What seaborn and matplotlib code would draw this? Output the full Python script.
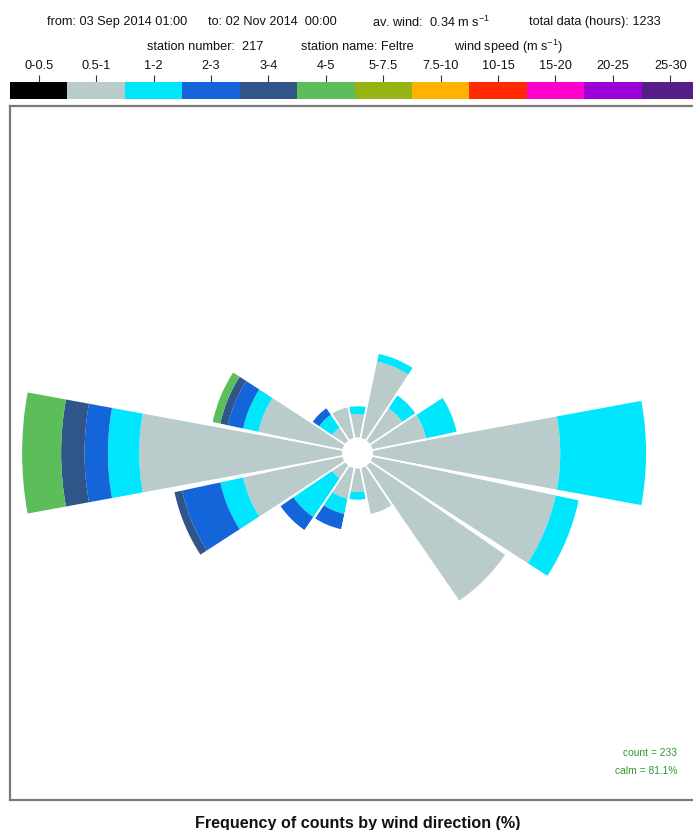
import numpy as np
import pandas as pd
import matplotlib
matplotlib.use("Agg")
import matplotlib.pyplot as plt
from matplotlib.colors import ListedColormap
import seaborn as sns

# ---------------- data ----------------
directions = ['N', 'NNE', 'NE', 'ENE', 'E', 'ESE', 'SE', 'SSE',
              'S', 'SSW', 'SW', 'WSW', 'W', 'WNW', 'NW', 'NNW']
dir_deg = [0, 22.5, 45, 67.5, 90, 112.5, 135, 157.5,
           180, 202.5, 225, 247.5, 270, 292.5, 315, 337.5]
speed_bins = ['0-0.5', '0.5-1', '1-2', '2-3', '3-4', '4-5', '5-7.5',
              '7.5-10', '10-15', '15-20', '20-25', '25-30']
bin_colors = ['#000000', '#B9CCCB', '#00E6FC', '#1565DA', '#2F5589', '#5BBE5B',
              '#96B414', '#FFB300', '#FF2A00', '#FF00CC', '#9B00D6', '#561C87']

# hourly counts per direction for each speed bin
counts_0_05 = [0, 0, 0, 0, 0, 0, 0, 0, 0, 0, 0, 0, 0, 0, 0, 0]
counts_05_1 = [3, 10, 5, 7, 24, 24, 21, 6, 3, 4, 2, 13, 26, 11, 2, 4]
counts_1_2 = [1, 1, 2, 4, 11, 3, 0, 0, 1, 2, 6, 3, 4, 2, 2, 0]
counts_2_3 = [0, 0, 0, 0, 0, 0, 0, 0, 0, 2, 2, 5, 3, 2, 1, 0]
counts_3_4 = [0, 0, 0, 0, 0, 0, 0, 0, 0, 0, 0, 1, 3, 1, 0, 0]
counts_4_5 = [0, 0, 0, 0, 0, 0, 0, 0, 0, 0, 0, 0, 5, 1, 0, 0]

total_hours = 1233
count_total = 233
calm_pct = 81.1

header1 = [("from: 03 Sep 2014 01:00", 47), ("to: 02 Nov 2014  00:00", 208),
           (r"av. wind:  0.34 m s$^{-1}$", 372), ("total data (hours): 1233", 529)]
header2 = [("station number:  217", 147), ("station name: Feltre", 301),
           (r"wind speed (m s$^{-1}$)", 454)]
xlabel = "Frequency of counts by wind direction (%)"

# ---------------- style ----------------
sns.set_theme(style="white")
plt.rcParams['font.family'] = ['Liberation Sans', 'DejaVu Sans']
plt.rcParams['mathtext.fontset'] = 'custom'
plt.rcParams['mathtext.rm'] = 'Liberation Sans'

W, H = 693, 830
fig = plt.figure(figsize=(W / 100, H / 100), dpi=100)
fig.patch.set_facecolor('white')

def fx(px):
    return px / W

def fy(py):
    return 1 - py / H

FS = 9.2
# header text
for txt, x0 in header1:
    fig.text(fx(x0), fy(22), txt, fontsize=FS, ha='left', va='center', color='#111111')
for txt, x0 in header2:
    fig.text(fx(x0), fy(46.5), txt, fontsize=FS, ha='left', va='center', color='#111111')

# colour key (seaborn heatmap)
cax = fig.add_axes([fx(10), fy(98.5), fx(699) - fx(10), (98.5 - 81.5) / H])
key = pd.DataFrame([np.arange(len(speed_bins))], columns=speed_bins)
sns.heatmap(key, ax=cax, cmap=ListedColormap(bin_colors), cbar=False,
            xticklabels=speed_bins, yticklabels=False, linewidths=0)
cax.xaxis.tick_top()
cax.tick_params(axis='x', top=True, bottom=False, length=5, width=0.8,
                color='#333333', labelsize=FS, pad=1.5, labelcolor='#111111',
                direction='out')
for lab in cax.get_xticklabels():
    lab.set_rotation(0)
cax.set_xlabel('')
cax.set_ylabel('')

# panel frame
box_l, box_r, box_t, box_b = 10, 705, 106, 800
frame_pos = [fx(box_l), fy(box_b), fx(box_r) - fx(box_l), (box_b - box_t) / H]
fax = fig.add_axes(frame_pos)
fax.set_xticks([])
fax.set_yticks([])
for s in fax.spines.values():
    s.set_visible(True)
    s.set_color('#7a7a7a')
    s.set_linewidth(1.6)
fax.set_facecolor('white')

# polar rose
pax = fig.add_axes(frame_pos, projection='polar')
pax.set_theta_zero_location('N')
pax.set_theta_direction(-1)
pax.patch.set_alpha(0)
pax.grid(False)
pax.set_xticks([])
pax.set_yticks([])
pax.spines['polar'].set_visible(False)

pct_per_count = 100.0 / total_hours
HOLE = 0.161          # radius of the central hole (in % units)
RMAX = 3.607          # radial extent of panel (in % units)
pax.set_ylim(0, RMAX)

theta = np.deg2rad(dir_deg)
width = np.deg2rad(20.8)
series = [counts_0_05, counts_05_1, counts_1_2, counts_2_3, counts_3_4, counts_4_5]
bottom = np.full(len(directions), HOLE)
for vals, col in zip(series, bin_colors):
    h = np.array(vals) * pct_per_count
    mask = h > 0
    if mask.any():
        pax.bar(theta[mask], h[mask], width=width, bottom=bottom[mask],
                color=col, edgecolor='none', linewidth=0, align='center', zorder=2)
    bottom = bottom + h

# thin white separators between sectors
for d in dir_deg:
    a = np.deg2rad(d + 11.25)
    pax.plot([a, a], [0, RMAX], color='white', lw=1.3, zorder=3,
             solid_capstyle='butt')

# counts / calm annotation
fig.text(fx(677), fy(753), f"count = {count_total}", fontsize=7.4, color='#2E9A2E',
         ha='right', va='center')
fig.text(fx(677), fy(770.5), f"calm = {calm_pct}%", fontsize=7.4, color='#2E9A2E',
         ha='right', va='center')

fig.text(fx(357.5), fy(823), xlabel, fontsize=11.6, fontweight='bold',
         ha='center', va='center', color='#111111')

fig.savefig('out.png', dpi=100, facecolor='white')
